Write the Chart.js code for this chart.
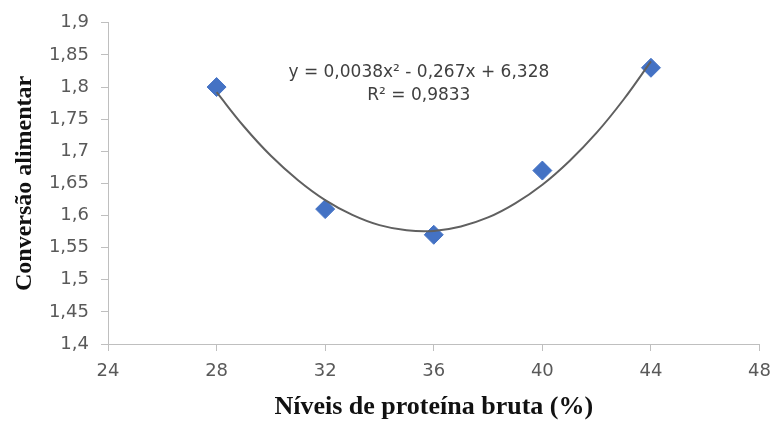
<!DOCTYPE html>
<html>
<head>
<meta charset="utf-8">
<script src="https://cdn.jsdelivr.net/npm/chart.js@4/dist/chart.umd.min.js"></script>
<style>
  body { margin: 0; background: #fff; }
  canvas { display: block; }
</style>
</head>
<body>
<canvas id="feedChart" width="781" height="423"></canvas>
<script>
// measured points (protein level %, feed conversion)
const proteinLevels = [28, 32, 36, 40, 44];
const feedConversion = [1.80, 1.61, 1.57, 1.67, 1.83];

// polynomial trendline
const trendX = [28, 29, 30, 31, 32, 33, 34, 35, 36, 37, 38, 39, 40, 41, 42, 43, 44];
const trendY = [1.792, 1.739, 1.693, 1.655, 1.624, 1.601, 1.585, 1.577, 1.576, 1.583, 1.597, 1.619, 1.648, 1.685, 1.729, 1.781, 1.840];

const xTicks = [24, 28, 32, 36, 40, 44, 48];
const yTicks = [1.4, 1.45, 1.5, 1.55, 1.6, 1.65, 1.7, 1.75, 1.8, 1.85, 1.9];

const equationLines = ['y = 0,0038x² - 0,267x + 6,328', 'R² = 0,9833'];

const axisGrey = '#bfbfbf';
const labelGrey = '#595959';

const fmtComma = v => String(Math.round(v * 100) / 100).replace('.', ',');

// trendline equation box
const equationPlugin = {
    id: 'equation',
    afterDraw(chart) {
        const ctx = chart.ctx;
        const x = chart.scales.x, y = chart.scales.y;
        ctx.save();
        ctx.font = '17px "DejaVu Sans"';
        ctx.fillStyle = '#404040';
        ctx.textAlign = 'center';
        ctx.textBaseline = 'middle';
        ctx.fillText(equationLines[0], x.getPixelForValue(35.45), y.getPixelForValue(1.822));
        ctx.fillText(equationLines[1], x.getPixelForValue(35.45), y.getPixelForValue(1.7865));
        ctx.restore();
    }
};

new Chart(document.getElementById('feedChart').getContext('2d'), {
    type: 'scatter',
    data: {
        datasets: [
            {
                type: 'line',
                label: 'Polinomial',
                data: trendX.map((v, i) => ({ x: v, y: trendY[i] })),
                borderColor: '#606060',
                borderWidth: 2,
                pointRadius: 0,
                tension: 0.4,
                fill: false,
                order: 0
            },
            {
                label: 'Conversão alimentar',
                data: proteinLevels.map((v, i) => ({ x: v, y: feedConversion[i] })),
                pointStyle: 'rectRot',
                pointRadius: 9.5,
                pointHoverRadius: 9.5,
                backgroundColor: '#4472C4',
                borderColor: '#4472C4',
                borderWidth: 1,
                order: 1
            }
        ]
    },
    options: {
        responsive: false,
        animation: false,
        layout: { padding: { top: 18, right: 13, bottom: 0, left: 0 } },
        plugins: {
            legend: { display: false },
            tooltip: { enabled: false }
        },
        scales: {
            x: {
                type: 'linear',
                min: 24,
                max: 48,
                afterBuildTicks: s => { s.ticks = xTicks.map(v => ({ value: v })); },
                afterFit: s => { s.height = 79; },
                grid: { drawOnChartArea: false, color: axisGrey, tickLength: 7 },
                border: { color: axisGrey, width: 1 },
                ticks: {
                    color: labelGrey,
                    padding: 10,
                    font: { family: 'DejaVu Sans', size: 18 },
                    maxRotation: 0
                },
                title: {
                    display: true,
                    text: 'Níveis de proteína bruta (%)',
                    color: '#111',
                    font: { family: 'Liberation Serif', size: 26, weight: 'bold' },
                    padding: { top: 0, bottom: 0 }
                }
            },
            y: {
                min: 1.4,
                max: 1.9,
                afterBuildTicks: s => { s.ticks = yTicks.map(v => ({ value: v })); },
                afterFit: s => { s.width = 108; },
                grid: { drawOnChartArea: false, color: axisGrey, tickLength: 7 },
                border: { color: axisGrey, width: 1 },
                ticks: {
                    color: labelGrey,
                    padding: 12,
                    font: { family: 'DejaVu Sans', size: 18 },
                    callback: v => fmtComma(v)
                },
                title: {
                    display: true,
                    text: 'Conversão alimentar',
                    color: '#111',
                    font: { family: 'Liberation Serif', size: 24, weight: 'bold' },
                    padding: { top: 10, bottom: 0 }
                }
            }
        }
    },
    plugins: [equationPlugin]
});
</script>
</body>
</html>
